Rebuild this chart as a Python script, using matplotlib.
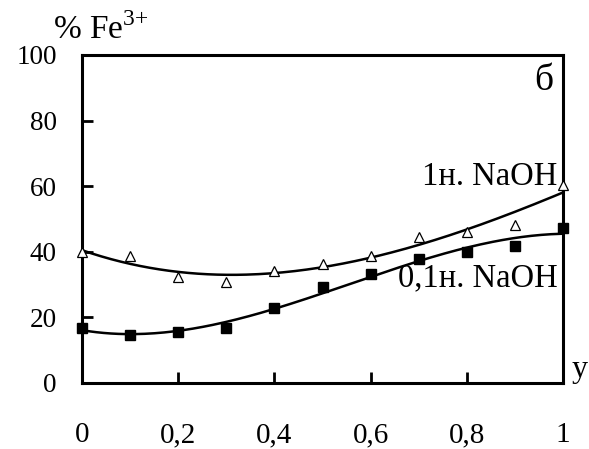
import matplotlib; matplotlib.use('Agg')
import numpy as np
import matplotlib.pyplot as plt

plt.rcParams['font.family'] = ['Liberation Serif', 'DejaVu Serif']
plt.rcParams['mathtext.fontset'] = 'custom'
plt.rcParams['mathtext.rm'] = 'Liberation Serif'

y_frac = [0.0, 0.1, 0.2, 0.3, 0.4, 0.5, 0.6, 0.7, 0.8, 0.9, 1.0]
fe_1n = [40.0, 38.7, 32.3, 30.8, 34.0, 36.3, 38.7, 44.5, 46.0, 48.2, 60.4]
fe_01n = [16.8, 14.6, 15.5, 16.8, 22.9, 29.3, 33.2, 37.8, 40.0, 41.8, 47.3]
xticks = [0, 0.2, 0.4, 0.6, 0.8, 1]
xlabels = ['0', '0,2', '0,4', '0,6', '0,8', '1']
yticks = [0, 20, 40, 60, 80, 100]

fig = plt.figure(figsize=(5.89, 4.49), dpi=100)
ax = fig.add_axes([82/589, 1-383/449, (563-82)/589, (383-55)/449])

# polynomial trend lines (3rd order)
xs = np.linspace(0, 1, 200)
for vals in (fe_1n, fe_01n):
    c = np.polyfit(y_frac, vals, 3)
    ax.plot(xs, np.polyval(c, xs), color='black', lw=1.8, zorder=2)

ax.plot(y_frac, fe_1n, linestyle='none', marker='^', ms=7, mfc='white', mec='black', mew=0.9, zorder=3, clip_on=False)
ax.plot(y_frac, fe_01n, linestyle='none', marker='s', ms=6.5, color='black', zorder=3, clip_on=False)

ax.set_xlim(0, 1)
ax.set_ylim(0, 100)
ax.set_xticks(xticks)
ax.set_xticklabels(xlabels)
ax.set_yticks(yticks)
for s in ax.spines.values():
    s.set_linewidth(2.2)
ax.tick_params(axis='both', direction='in', length=8, width=2)
ax.tick_params(axis='x', pad=28, labelsize=21)
ax.tick_params(axis='y', pad=18, labelsize=19.5)

ax.text(0.9875, 0.63, '1н. NaOH', transform=ax.transAxes, ha='right', va='center', fontsize=23.5)
ax.text(0.99, 0.32, '0,1н. NaOH', transform=ax.transAxes, ha='right', va='center', fontsize=23.5)
ax.text(0.98, 0.975, 'б', transform=ax.transAxes, ha='right', va='top', fontsize=27)
fig.text(572/589, 1-370/449, 'у', ha='left', va='center', fontsize=23)
fig.text(53/589, 1-30/449, r'% Fe$^{3{+}}$', ha='left', va='center', fontsize=24)

plt.savefig('out.png', dpi=100)
